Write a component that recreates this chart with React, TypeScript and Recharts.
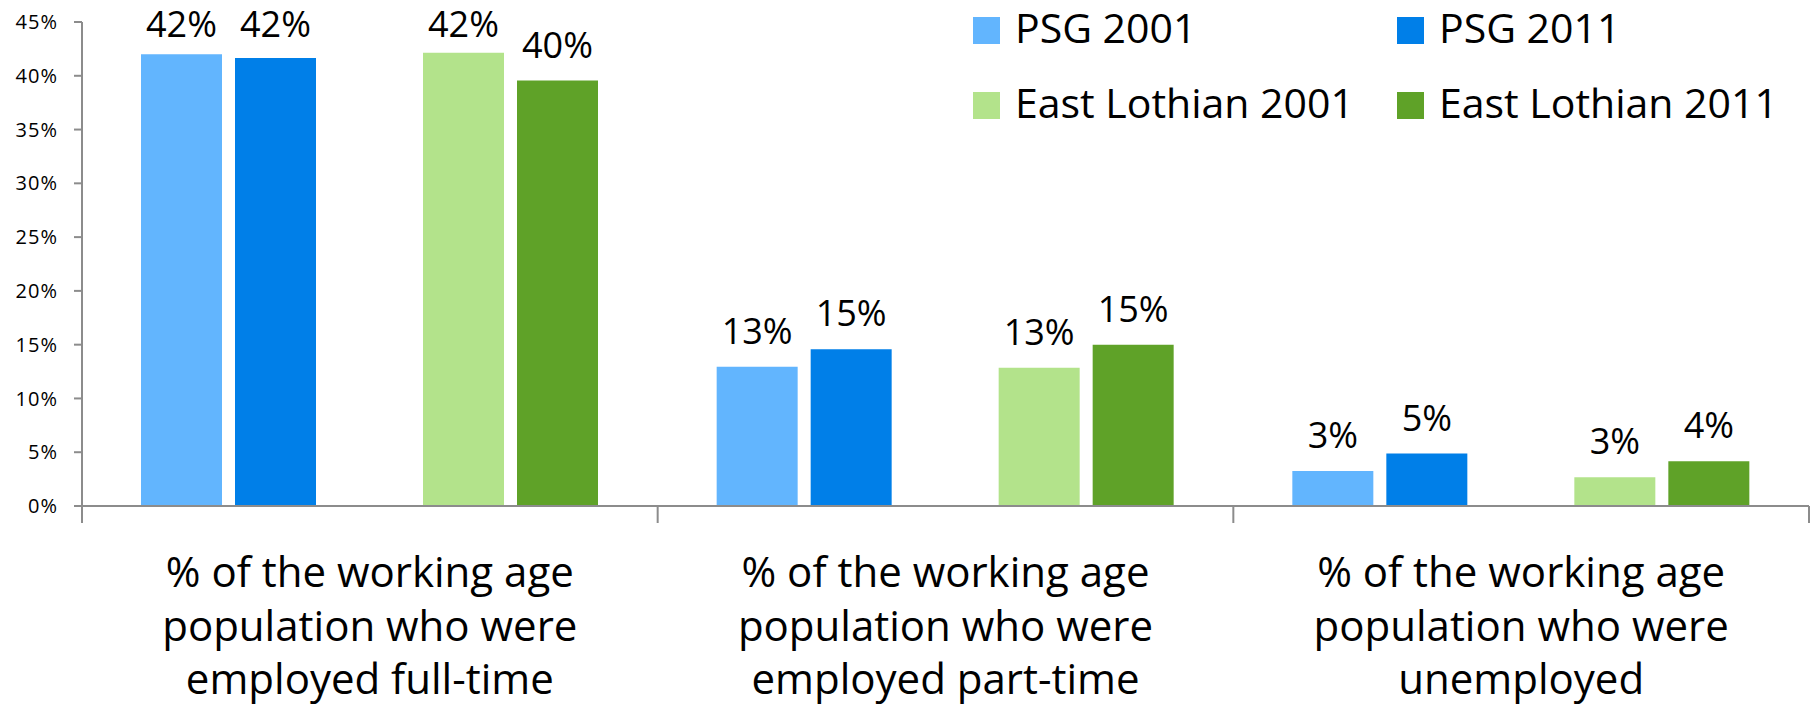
import { BarChart, Bar, XAxis, YAxis, Legend, LabelList } from "recharts";

const categoryLines = [
  ["% of the working age", "population who were", "employed full-time"],
  ["% of the working age", "population who were", "employed part-time"],
  ["% of the working age", "population who were", "unemployed"],
];
const categories = categoryLines.map((lines) => lines.join(" "));

const psg2001 = [42.0, 12.95, 3.26];
const psg2011 = [41.66, 14.57, 4.87];
const eastLothian2001 = [42.15, 12.85, 2.67];
const eastLothian2011 = [39.55, 15.0, 4.16];

const yTicks = [0, 5, 10, 15, 20, 25, 30, 35, 40, 45];

const series = [
  { key: "psg2001", name: "PSG 2001", color: "#62b5fe", values: psg2001 },
  { key: "psg2011", name: "PSG 2011", color: "#007fe8", values: psg2011 },
  { key: "el2001", name: "East Lothian 2001", color: "#b3e38b", values: eastLothian2001 },
  { key: "el2011", name: "East Lothian 2011", color: "#5fa228", values: eastLothian2011 },
];

const data = categories.map((category, i) => {
  const row: Record<string, string | number> = { category };
  series.forEach((s) => {
    row[s.key] = s.values[i];
  });
  return row;
});

const W = 1818;
const H = 707;
const LEFT = 82;
const RIGHT = 9;
const AXIS = "#8c8c8c";
const FONT = "'Open Sans', sans-serif";

const CategoryTick = (props: any) => {
  const { x, y, payload, index } = props;
  const half = payload?.offset || (W - LEFT - RIGHT) / categories.length / 2;
  const lines = categoryLines[index] || [String(payload.value)];
  return (
    <g>
      <line x1={x - half} y1={y} x2={x - half} y2={y + 17} stroke={AXIS} strokeWidth={2} />
      {index === categories.length - 1 && (
        <line x1={x + half} y1={y} x2={x + half} y2={y + 17} stroke={AXIS} strokeWidth={2} />
      )}
      {lines.map((line, i) => (
        <text
          key={i}
          x={x}
          y={y + 81 + i * 53.5}
          textAnchor="middle"
          fontFamily={FONT}
          fontSize={42}
          fill="#000"
        >
          {line}
        </text>
      ))}
    </g>
  );
};

const ValueLabel = (props: any) => {
  const { x, y, width, value } = props;
  if (value == null) return null;
  return (
    <text
      x={x + width / 2}
      y={Math.max(y - 23, 37)}
      textAnchor="middle"
      fontFamily={FONT}
      fontSize={36}
      fill="#000"
    >
      {Math.round(value)}%
    </text>
  );
};

const LegendBox = () => (
  <div style={{ position: "relative", width: 845, height: 140, fontFamily: FONT }}>
    {series.map((s, i) => {
      const col = i % 2;
      const row = Math.floor(i / 2);
      return (
        <div key={s.key}>
          <div
            style={{
              position: "absolute",
              left: col * 424,
              top: 17 + row * 75,
              width: 27,
              height: 27,
              background: s.color,
            }}
          />
          <div
            style={{
              position: "absolute",
              left: col * 424 + 42,
              top: 7 + row * 75,
              fontSize: 41,
              lineHeight: "40px",
              color: "#000",
              whiteSpace: "nowrap",
            }}
          >
            {s.name}
          </div>
        </div>
      );
    })}
  </div>
);

export default function App() {
  return (
    <div style={{ position: "absolute", left: 0, top: 0, background: "#fff" }}>
      <BarChart
        width={W}
        height={H}
        data={data}
        margin={{ top: 22, right: RIGHT, bottom: 0, left: 0 }}
        barSize={81}
        barGap={13}
      >
        <XAxis
          dataKey="category"
          height={201}
          tickLine={false}
          tickSize={0}
          tickMargin={0}
          axisLine={{ stroke: AXIS, strokeWidth: 2 }}
          tick={<CategoryTick />}
          interval={0}
        />
        <YAxis
          width={LEFT}
          domain={[0, 45]}
          ticks={yTicks}
          tickFormatter={(v: number) => `${v}%`}
          axisLine={{ stroke: AXIS, strokeWidth: 2 }}
          tickLine={{ stroke: AXIS, strokeWidth: 2 }}
          tickSize={8}
          tickMargin={16}
          tick={{ fill: "#000", fontFamily: FONT, fontSize: 20, letterSpacing: 1 }}
        />
        <Legend
          layout="horizontal"
          verticalAlign="middle"
          align="center"
          content={<LegendBox />}
          wrapperStyle={{ left: 973, top: 0, width: 845, height: 140 }}
        />
        <Bar dataKey="psg2001" fill={series[0].color} isAnimationActive={false}>
          <LabelList dataKey="psg2001" content={<ValueLabel />} />
        </Bar>
        <Bar dataKey="psg2011" fill={series[1].color} isAnimationActive={false}>
          <LabelList dataKey="psg2011" content={<ValueLabel />} />
        </Bar>
        <Bar dataKey="gap" fill="none" legendType="none" isAnimationActive={false} />
        <Bar dataKey="el2001" fill={series[2].color} isAnimationActive={false}>
          <LabelList dataKey="el2001" content={<ValueLabel />} />
        </Bar>
        <Bar dataKey="el2011" fill={series[3].color} isAnimationActive={false}>
          <LabelList dataKey="el2011" content={<ValueLabel />} />
        </Bar>
      </BarChart>
    </div>
  );
}
